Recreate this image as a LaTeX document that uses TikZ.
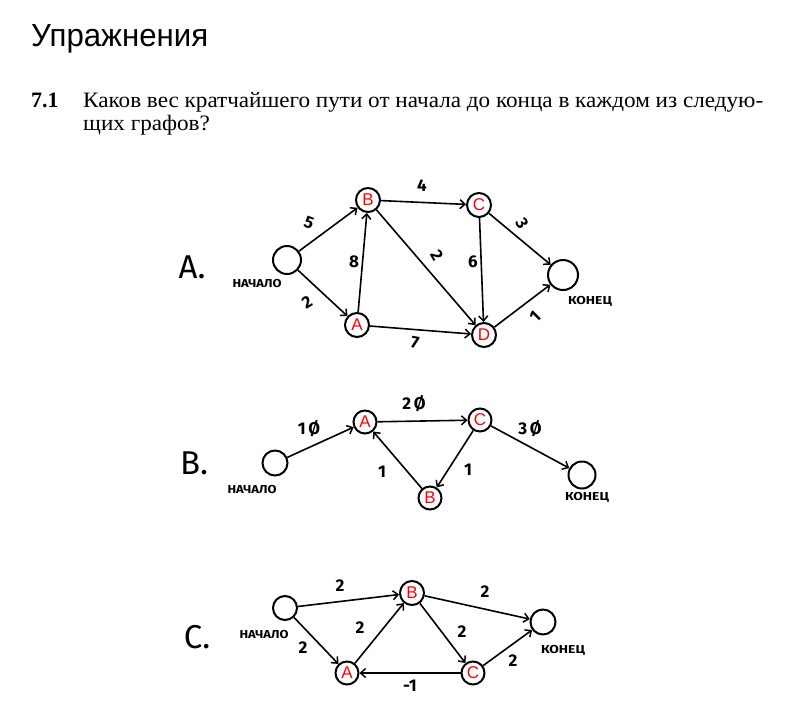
\documentclass[tikz,border=0pt]{standalone}
\usepackage{fontspec}
\usepackage{graphicx}
\setmainfont{Liberation Serif}
\setsansfont{Liberation Sans}
\newfontfamily\hand{Fira Sans}
\usetikzlibrary{arrows.meta}
\begin{document}
\begin{tikzpicture}[x=1pt,y=-1pt,
 vert/.style={circle,draw,line width=2pt,fill=white,minimum size=24pt,inner sep=0pt,font=\sffamily\fontsize{17}{17}\selectfont,text=red},
 term/.style={circle,draw,line width=2pt,minimum size=28pt,inner sep=0pt},
 edge/.style={line width=1.6pt,-{Straight Barb[length=5pt,width=9pt,line width=1.5pt]}},
 wt/.style={inner sep=0pt,font=\hand\bfseries\fontsize{17}{17}\selectfont},
 tag/.style={inner sep=0pt,font=\hand\bfseries\fontsize{11.5}{11.5}\selectfont},
 big/.style={inner sep=0pt,font=\hand\fontsize{33}{33}\selectfont},
 txt/.style={inner sep=0pt,anchor=base west}]
\useasboundingbox[fill=white] (0,0) rectangle (793,716);
% header
\node[txt] (title) at (31,46) {\resizebox{177pt}{\height}{\sffamily\fontsize{32}{32}\selectfont Упражнения}};
\node[txt] (num) at (31,107) {\fontsize{22}{22}\selectfont\bfseries 7.1};
\node[txt] (q1) at (83,107) {\resizebox{680pt}{\height}{\fontsize{22}{23}\selectfont\begin{tabular}[t]{@{}l@{}}Каков вес кратчайшего пути от начала до конца в каждом из следую-\\щих графов?\end{tabular}}};

% ---------- Graph A ----------
\node[big] (la) at (192,267) {A.};
\node[term] (sa) at (287,260) {};
\node[tag] (sal) at (257,284) {\resizebox{49pt}{\height}{НАЧАЛО}};
\node[vert] (aB) at (368,200) {B};
\node[vert] (aC) at (479,205) {C};
\node[vert] (aA) at (357,325) {A};
\node[vert] (aD) at (484,335) {D};
\node[term,minimum size=30pt] (ea) at (563,275) {};
\node[tag] (eal) at (590,301) {\resizebox{44pt}{\height}{КОНЕЦ}};
\draw[edge] (sa) -- (aB);
\draw[edge] (sa) -- (aA);
\draw[edge] (aA) -- (aB);
\draw[edge] (aB) -- (aC);
\draw[edge] (aB) -- (aD);
\draw[edge] (aA) -- (aD);
\draw[edge] (aC) -- (aD);
\draw[edge] (aC) -- (ea);
\draw[edge] (aD) -- (ea);
\node[wt,rotate=-20] (w1) at (309,223) {5};
\node[wt,rotate=30] (w2) at (307,302) {2};
\node[wt] (w3) at (354,262) {8};
\node[wt] (w4) at (422,186) {4};
\node[wt,rotate=-60] (w5) at (437,255) {2};
\node[wt] (w6) at (473,262) {6};
\node[wt,rotate=-60] (w7) at (522,223) {3};
\node[wt,rotate=45] (w8) at (535,317) {1};
\node[wt,rotate=-10] (w9) at (415,343) {7};

% ---------- Graph B ----------
\node[big] (lb) at (194,463) {B.};
\node[term,minimum size=25pt] (sb) at (275,463) {};
\node[tag] (sbl) at (252,490) {\resizebox{49pt}{\height}{НАЧАЛО}};
\node[vert,minimum size=23pt] (bA) at (365,422) {A};
\node[vert,minimum size=23pt] (bC) at (480,420) {C};
\node[vert,minimum size=23pt] (bB) at (430,498) {B};
\node[term,minimum size=27pt] (eb) at (582,475) {};
\node[tag] (ebl) at (587,497) {\resizebox{44pt}{\height}{КОНЕЦ}};
\draw[edge] (sb) -- (bA);
\draw[edge] (bA) -- (bC);
\draw[edge] (bC) -- (bB);
\draw[edge] (bB) -- (bA);
\draw[edge] (bC) -- (eb);
\node[wt] (v1) at (309,429) {1\,Ø};
\node[wt] (v2) at (414,404) {2\,Ø};
\node[wt] (v3) at (530,429) {3\,Ø};
\node[wt] (v4) at (382,472) {1};
\node[wt] (v5) at (468,470) {1};

% ---------- Graph C ----------
\node[big] (lc) at (197,637) {C.};
\node[term,minimum size=24pt] (sc) at (285,608) {};
\node[tag] (scl) at (264,635) {\resizebox{49pt}{\height}{НАЧАЛО}};
\node[vert,minimum size=24pt] (cB) at (412,593) {B};
\node[vert,minimum size=23pt] (cA) at (347,673) {A};
\node[vert,minimum size=23pt] (cC) at (473,673) {C};
\node[term,minimum size=25pt] (ec) at (543,622) {};
\node[tag] (ecl) at (563,650) {\resizebox{44pt}{\height}{КОНЕЦ}};
\draw[edge] (sc) -- (cB);
\draw[edge] (sc) -- (cA);
\draw[edge] (cA) -- (cB);
\draw[edge] (cB) -- (ec);
\draw[edge] (cB) -- (cC);
\draw[edge] (cC) -- (cA);
\draw[edge] (cC) -- (ec);
\node[wt] (u1) at (340,586) {2};
\node[wt] (u2) at (303,648) {2};
\node[wt] (u3) at (360,628) {2};
\node[wt] (u4) at (485,592) {2};
\node[wt] (u5) at (462,632) {2};
\node[wt] (u6) at (513,661) {2};
\node[wt] (u7) at (410,686) {-1};
\end{tikzpicture}
\end{document}
